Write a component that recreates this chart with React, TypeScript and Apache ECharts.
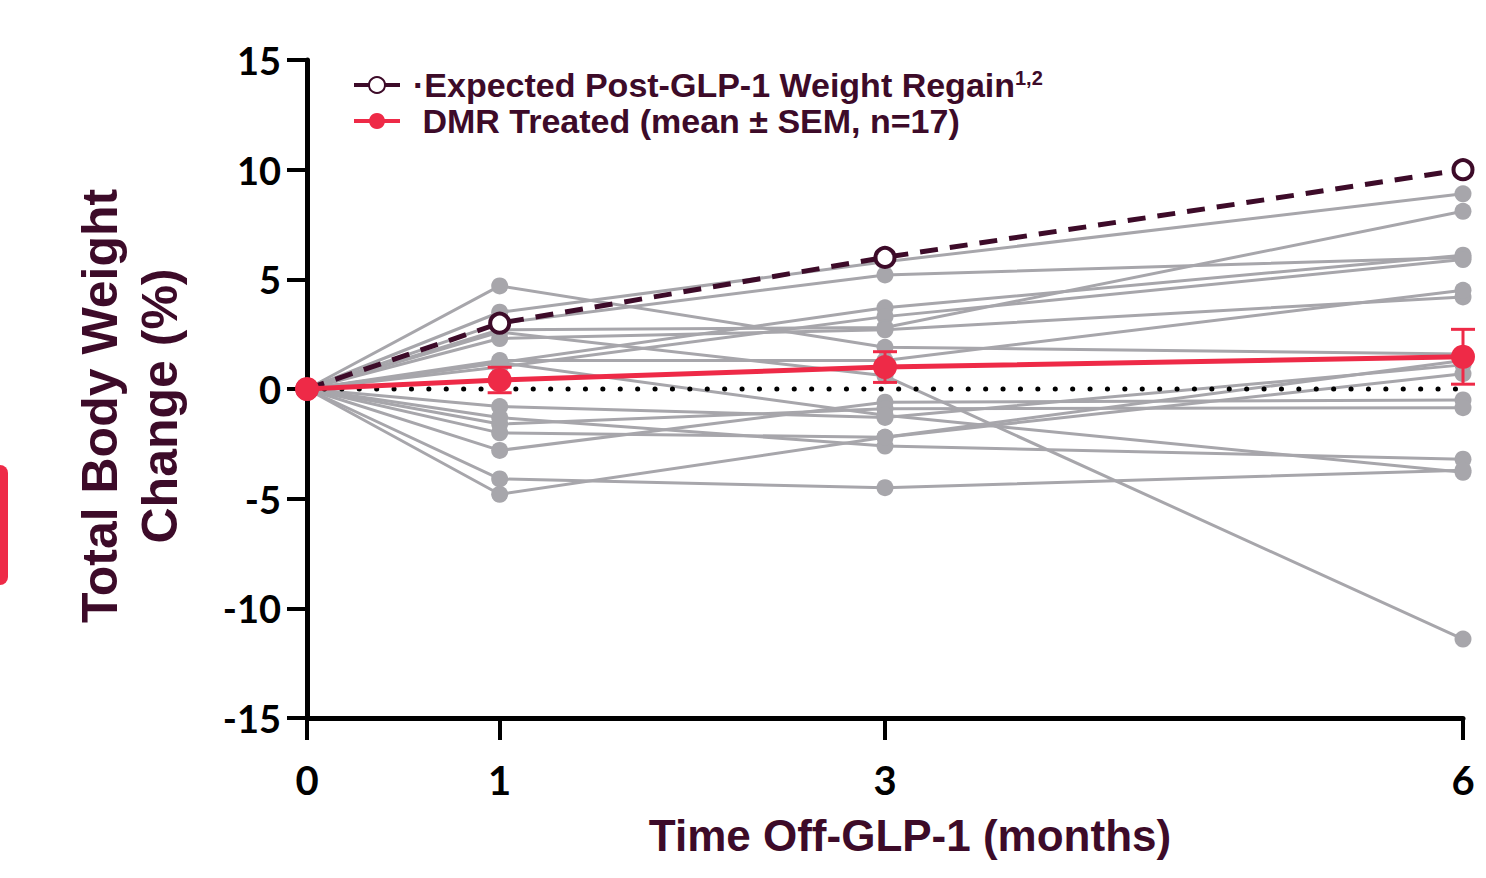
import React, { useEffect, useRef } from "react";
import * as echarts from "echarts";

// ---- data ----
const months = [0, 1, 3, 6];
const tickLabels = ["0", "1", "3", "6"];
const expectedRegain = [0, 3, 6, 10];
const dmrMean = [0, 0.41, 1.0, 1.47];
const dmrSem = [0, 0.58, 0.7, 1.25];
// individual subjects (n=17): values at months 0,1,3,6
const subject01 = [0, 3.5, 5.8, 8.9];
const subject02 = [0, 3.0, 5.2, 6.0];
const subject03 = [0, 1.2, 3.7, 6.1];
const subject04 = [0, 1.0, 3.3, 5.9];
const subject05 = [0, 2.7, 2.8, 8.1];
const subject06 = [0, 2.3, 2.7, 4.2];
const subject07 = [0, 1.3, 1.3, 4.5];
const subject08 = [0, 4.7, 1.9, 1.6];
const subject09 = [0, 2.6, 0.6, -11.4];
const subject10 = [0, -2.8, -0.6, -0.5];
const subject11 = [0, -1.6, -0.9, -0.85];
const subject12 = [0, -0.8, -1.3, 1.1];
const subject13 = [0, -2.0, -2.2, 0.7];
const subject14 = [0, 1.2, -1.2, -3.8];
const subject15 = [0, -1.3, -2.6, -3.2];
const subject16 = [0, -4.1, -4.5, -3.7];
const subject17 = [0, -4.8, -2.2, 1.3];
const subjects = [
  subject01, subject02, subject03, subject04, subject05, subject06,
  subject07, subject08, subject09, subject10, subject11, subject12,
  subject13, subject14, subject15, subject16, subject17,
];

const MAROON = "#3d0b29";
const RED = "#ee2a47";
const GREY = "#a7a6ab";
const LEGEND_EXPECTED = "Expected Post-GLP-1 Weight Regain";
const LEGEND_DMR = "DMR Treated (mean ± SEM, n=17)";

const pairs = (vals: number[]) => months.map((m, i) => [m, vals[i]]);

export default function App() {
  const ref = useRef<HTMLDivElement>(null);
  useEffect(() => {
    if (!ref.current) return;
    const chart = echarts.init(ref.current, undefined, { renderer: "svg" });

    const subjectSeries = subjects.map((s, i) => ({
      name: "subject" + (i + 1),
      type: "line",
      data: pairs(s),
      symbol: "circle",
      symbolSize: 17,
      clip: false,
      z: 2,
      lineStyle: { color: GREY, width: 3 },
      itemStyle: { color: GREY },
      emphasis: { disabled: true },
    }));

    const errData = months.map((m, i) => [m, dmrMean[i], dmrSem[i]]).filter((d) => d[2] > 0);

    const option: any = {
      animation: false,
      grid: { left: 307, right: 23, top: 60, bottom: 160 },
      xAxis: {
        type: "value",
        min: 0,
        max: 6,
        axisLine: { onZero: false, lineStyle: { color: "#000", width: 5 } },
        axisTick: { customValues: months, length: 22, lineStyle: { color: "#000", width: 4 } },
        axisLabel: {
          customValues: months,
          formatter: (v: number) => tickLabels[months.indexOf(v)] ?? "",
          margin: 42,
          color: "#000",
          fontFamily: "Lato",
          fontWeight: "bold",
          fontSize: 40,
        },
        splitLine: { show: false },
      },
      yAxis: {
        type: "value",
        min: -15,
        max: 15,
        interval: 5,
        axisLine: { show: true, lineStyle: { color: "#000", width: 5 } },
        axisTick: { show: true, length: 20, lineStyle: { color: "#000", width: 4 } },
        axisLabel: {
          margin: 26,
          color: "#000",
          fontFamily: "Lato",
          fontWeight: "bold",
          fontSize: 38,
        },
        splitLine: { show: false },
      },
      legend: {
        left: 347,
        top: 63,
        orient: "vertical",
        itemWidth: 46,
        itemHeight: 20,
        itemGap: 2,
        selectedMode: false,
        lineStyle: { type: "solid", width: 4 },
        data: [
          { name: LEGEND_EXPECTED },
          { name: LEGEND_DMR },
        ],
        formatter: (name: string) =>
          name === LEGEND_EXPECTED ? "·" + name + "{sup|1,2}" : " " + name,
        textStyle: {
          color: MAROON,
          fontFamily: "Liberation Sans",
          fontWeight: "bold",
          fontSize: 34,
          padding: [0, 0, 0, 8],
          rich: {
            sup: {
              color: MAROON,
              fontFamily: "Liberation Sans",
              fontWeight: "bold",
              fontSize: 20,
              verticalAlign: "top",
              padding: [0, 0, 10, 0],
            },
          },
        },
      },
      graphic: [
        {
          type: "rect",
          shape: { x: -12, y: 465, width: 20, height: 120, r: 8 },
          style: { fill: RED },
        },
        {
          type: "text",
          x: 100,
          y: 406,
          rotation: Math.PI / 2,
          style: {
            text: "Total Body Weight",
            fill: MAROON,
            font: "bold 50px 'Liberation Sans'",
            align: "center",
            verticalAlign: "middle",
          },
        },
        {
          type: "text",
          x: 160,
          y: 406,
          rotation: Math.PI / 2,
          style: {
            text: "Change (%)",
            fill: MAROON,
            font: "bold 50px 'Liberation Sans'",
            align: "center",
            verticalAlign: "middle",
          },
        },
        {
          type: "text",
          x: 910,
          y: 835,
          style: {
            text: "Time Off-GLP-1 (months)",
            fill: MAROON,
            font: "bold 44px 'Liberation Sans'",
            align: "center",
            verticalAlign: "middle",
          },
        },
      ],
      series: [
        ...subjectSeries,
        {
          name: "zero",
          type: "line",
          data: [[0, 0], [6, 0]],
          symbol: "none",
          clip: false,
          z: 3,
          lineStyle: { color: "#000", width: 5, type: [0.1, 17.3], cap: "round" },
          emphasis: { disabled: true },
        },
        {
          name: LEGEND_EXPECTED,
          type: "line",
          data: pairs(expectedRegain),
          symbol: "circle",
          symbolSize: 19,
          clip: false,
          z: 4,
          lineStyle: { color: MAROON, width: 5, type: [18, 12] },
          itemStyle: { color: "#fff", borderColor: MAROON, borderWidth: 4 },
          emphasis: { disabled: true },
        },
        {
          name: "sem",
          type: "custom",
          z: 5,
          clip: false,
          data: errData,
          renderItem: (params: any, api: any) => {
            const x = api.value(0);
            const m = api.value(1);
            const e = api.value(2);
            const top = api.coord([x, m + e]);
            const bot = api.coord([x, m - e]);
            const hw = 12;
            const style = { stroke: RED, lineWidth: 3 };
            return {
              type: "group",
              children: [
                { type: "line", shape: { x1: top[0], y1: top[1], x2: bot[0], y2: bot[1] }, style },
                { type: "line", shape: { x1: top[0] - hw, y1: top[1], x2: top[0] + hw, y2: top[1] }, style },
                { type: "line", shape: { x1: bot[0] - hw, y1: bot[1], x2: bot[0] + hw, y2: bot[1] }, style },
              ],
            };
          },
        },
        {
          name: LEGEND_DMR,
          type: "line",
          data: pairs(dmrMean),
          symbol: "circle",
          symbolSize: 24,
          clip: false,
          z: 6,
          lineStyle: { color: RED, width: 5 },
          itemStyle: { color: RED },
          emphasis: { disabled: true },
        },
      ],
    };
    chart.setOption(option);
    return () => chart.dispose();
  }, []);

  return (
    <div
      ref={ref}
      style={{ position: "absolute", left: 0, top: 0, width: 1486, height: 878, background: "#fff" }}
    />
  );
}
